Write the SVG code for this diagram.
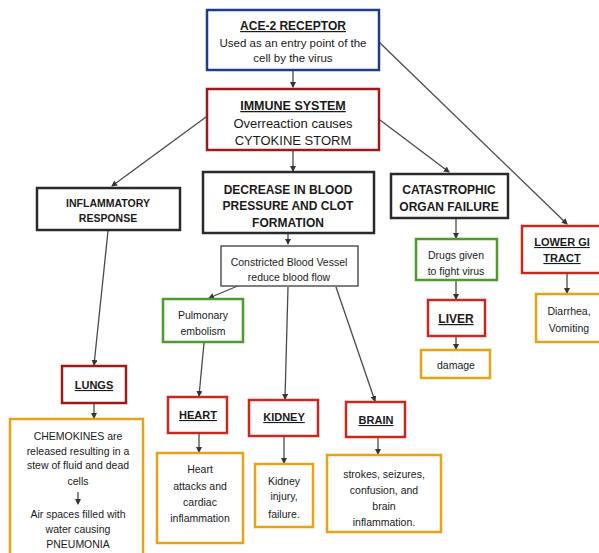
<svg xmlns="http://www.w3.org/2000/svg" width="599" height="553" viewBox="0 0 599 553">
<style>
rect{fill:#fff;stroke-width:2.5}
.blue{stroke:#1f3c8c}
.dred{stroke:#a3161a}
.red{stroke:#c8281e}
.blk{stroke:#2a2a2a}
.grn{stroke:#4f9a2c}
.org{stroke:#e6a415}
text{font-family:"Liberation Sans",Arial,sans-serif;text-anchor:middle;fill:#1a1a1a}
.b{font-weight:bold}
.u{text-decoration:underline}
line.c{stroke:#4a4a4a;stroke-width:1.3;marker-end:url(#ah)}
</style>
<defs>
<marker id="ah" markerWidth="6" markerHeight="6" refX="5" refY="3" orient="auto" markerUnits="userSpaceOnUse"><path d="M0,0 L6,3 L0,6 z" fill="#333"/></marker>
</defs>
<rect x="0" y="0" width="599" height="553" style="fill:#fff;stroke:none"/>
<g id="connectors">
<line class="c" x1="293" y1="71" x2="293" y2="87"/>
<line class="c" x1="379" y1="42" x2="567" y2="224"/>
<line class="c" x1="206" y1="117" x2="112" y2="186"/>
<line class="c" x1="293" y1="151" x2="293" y2="171"/>
<line class="c" x1="380" y1="120" x2="449" y2="172"/>
<line class="c" x1="288" y1="234" x2="288" y2="244"/>
<line class="c" x1="240" y1="285" x2="209" y2="298"/>
<line class="c" x1="288" y1="287" x2="285" y2="399"/>
<line class="c" x1="336" y1="287" x2="375" y2="401"/>
<line class="c" x1="108" y1="231" x2="94" y2="365"/>
<line class="c" x1="94" y1="404" x2="94" y2="418"/>
<line class="c" x1="204" y1="343" x2="199" y2="396"/>
<line class="c" x1="199" y1="434" x2="199" y2="452"/>
<line class="c" x1="284" y1="437" x2="284" y2="463"/>
<line class="c" x1="378" y1="438" x2="378" y2="454"/>
<line class="c" x1="456" y1="219" x2="456" y2="238"/>
<line class="c" x1="456" y1="281" x2="456" y2="299"/>
<line class="c" x1="456" y1="337" x2="456" y2="349"/>
<line class="c" x1="567" y1="274" x2="567" y2="293"/>
</g>
<g id="ace2"><rect class="blue" x="207" y="10" width="172" height="60"/>
<text x="293" y="30" class="b u" font-size="12">ACE-2 RECEPTOR</text>
<text x="293" y="47" font-size="11.5">Used as an entry point of the</text>
<text x="293" y="62" font-size="11.5">cell  by the virus</text></g>
<g id="immune"><rect class="dred" x="207" y="89" width="172" height="61"/>
<text x="293" y="110" class="b u" font-size="12.5">IMMUNE SYSTEM</text>
<text x="293" y="128" font-size="13">Overreaction causes</text>
<text x="293" y="145" font-size="13">CYTOKINE STORM</text></g>
<g id="inflammatory"><rect class="blk" x="37" y="188" width="143" height="42"/>
<text x="108" y="207" class="b" font-size="10.5">INFLAMMATORY</text>
<text x="108" y="222" class="b" font-size="10.5">RESPONSE</text></g>
<g id="decrease"><rect class="blk" x="203" y="172" width="171" height="61"/>
<text x="288" y="194" class="b" font-size="12">DECREASE IN BLOOD</text>
<text x="288" y="210" class="b" font-size="12">PRESSURE AND CLOT</text>
<text x="288" y="227" class="b" font-size="12">FORMATION</text></g>
<g id="constricted"><rect class="blk" x="221" y="246" width="137" height="40" style="stroke:#555;stroke-width:1.5"/>
<text x="289" y="266" font-size="10.5">Constricted Blood Vessel</text>
<text x="289" y="281" font-size="10.5">reduce blood flow</text></g>
<g id="catastrophic"><rect class="blk" x="391" y="174" width="117" height="44"/>
<text x="449" y="194" class="b" font-size="12">CATASTROPHIC</text>
<text x="449" y="211" class="b" font-size="12">ORGAN FAILURE</text></g>
<g id="drugs"><rect class="grn" x="416" y="239" width="81" height="41"/>
<text x="456" y="259" font-size="10.5">Drugs given</text>
<text x="456" y="275" font-size="10.5">to fight virus</text></g>
<g id="liver"><rect class="red" x="428" y="300" width="57" height="36"/>
<text x="456" y="323" class="b u" font-size="12">LIVER</text></g>
<g id="damage"><rect class="org" x="421" y="350" width="69" height="28"/>
<text x="456" y="369" font-size="10.5">damage</text></g>
<g id="lowergi"><rect class="red" x="522" y="226" width="80" height="47"/>
<text x="562" y="246" class="b u" font-size="11">LOWER GI</text>
<text x="562" y="262" class="b u" font-size="11">TRACT</text></g>
<g id="diarrhea"><rect class="org" x="536" y="294" width="66" height="48"/>
<text x="569" y="315" font-size="10.5">Diarrhea,</text>
<text x="569" y="332" font-size="10.5">Vomiting</text></g>
<g id="lungs"><rect class="dred" x="62" y="366" width="64" height="37"/>
<text x="94" y="389" class="b u" font-size="11">LUNGS</text></g>
<g id="chemokines"><rect class="org" x="10" y="419" width="133" height="140"/>
<text x="78" y="440" font-size="10.5">CHEMOKINES are</text>
<text x="78" y="455" font-size="10.5">released resulting in a</text>
<text x="78" y="469" font-size="10.5">stew of fluid and dead</text>
<text x="78" y="485" font-size="10.5">cells</text>
<line class="c" x1="78" y1="492" x2="78" y2="504"/>
<text x="78" y="518" font-size="10.5">Air spaces filled with</text>
<text x="78" y="533" font-size="10.5">water causing</text>
<text x="78" y="548" font-size="10.5">PNEUMONIA</text></g>
<g id="pulmonary"><rect class="grn" x="163" y="299" width="80" height="43"/>
<text x="203" y="319" font-size="10.5">Pulmonary</text>
<text x="203" y="335" font-size="10.5">embolism</text></g>
<g id="heart"><rect class="red" x="168" y="397" width="59" height="36"/>
<text x="198" y="419" class="b u" font-size="11">HEART</text></g>
<g id="heartdesc"><rect class="org" x="157" y="453" width="86" height="90"/>
<text x="200" y="473" font-size="10.5">Heart</text>
<text x="200" y="490" font-size="10.5">attacks and</text>
<text x="200" y="506" font-size="10.5">cardiac</text>
<text x="200" y="522" font-size="10.5">inflammation</text></g>
<g id="kidney"><rect class="red" x="249" y="400" width="69" height="36"/>
<text x="284" y="421" class="b u" font-size="11">KIDNEY</text></g>
<g id="kidneydesc"><rect class="org" x="255" y="464" width="58" height="63"/>
<text x="284" y="485" font-size="10.5">Kidney</text>
<text x="284" y="500" font-size="10.5">injury,</text>
<text x="284" y="518" font-size="10.5">failure.</text></g>
<g id="brain"><rect class="red" x="346" y="402" width="59" height="35"/>
<text x="376" y="424" class="b u" font-size="11">BRAIN</text></g>
<g id="braindesc"><rect class="org" x="327" y="455" width="114" height="77"/>
<text x="384" y="478" font-size="10.5">strokes, seizures,</text>
<text x="384" y="494" font-size="10.5">confusion, and</text>
<text x="384" y="510" font-size="10.5">brain</text>
<text x="384" y="526" font-size="10.5">inflammation.</text></g>
</svg>
